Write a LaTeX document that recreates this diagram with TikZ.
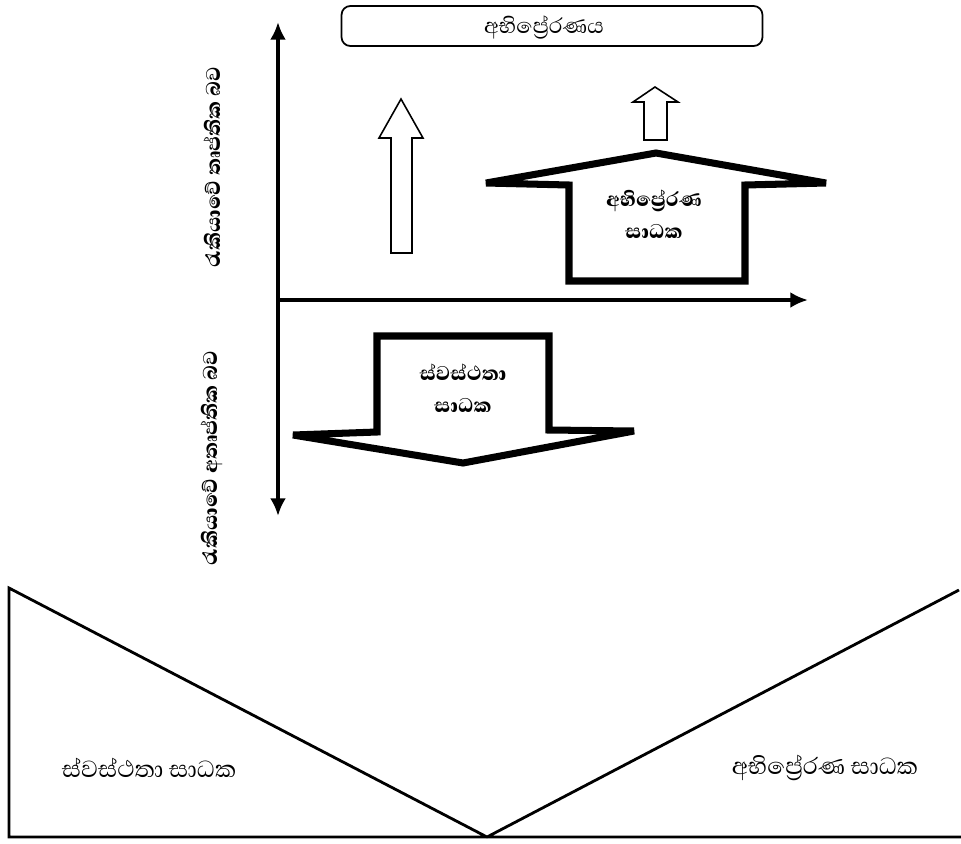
\documentclass[tikz,border=0pt]{standalone}
\usepackage{fontspec}
\newfontfamily\sinhala[Script=Sinhala, BoldFont={* ExtraBold}]{Abhaya Libre}
\usetikzlibrary{arrows,arrows.meta}
\tikzset{>=latex}

\begin{document}
\begin{tikzpicture}[x=0.02cm, y=-0.02cm]
                        % pixel grid of the page, y grows downwards
                        \useasboundingbox (0,0) rectangle (961,843);
                        \tikzstyle{every node}=[font=\sinhala\fontsize{15.5}{18}\selectfont]
                        \tikzstyle{axis}=[black, line width=2.3pt, {Latex[length=10pt,width=9pt]}-{Latex[length=10pt,width=9pt]}]
                        \tikzstyle{hollow}=[black, line width=0.9pt, fill=white]
                        \tikzstyle{block}=[black, line width=4pt]
                        \tikzstyle{vee}=[black, line width=1.6pt]
                        \tikzstyle{boldtext}=[font=\sinhala\bfseries\fontsize{14.5}{18}\selectfont, align=center]

                        \coordinate (O) at (278,300);
                        \coordinate (yT) at (278,22);
                        \coordinate (yB) at (278,516);
                        \coordinate (xR) at (808,300);
                        \draw[axis] (yB) -- (yT);
                        \draw[axis, {Latex[length=10pt,width=9pt]}-] (xR) -- (O);

                        \node[draw, rounded corners=5pt, line width=1pt, minimum width=8.42cm, minimum height=0.8cm] (goal) at (552,26) {};
                        \node (goaltext) at (544,27) {අභිප්^^^^200dරේරණය};

                        \node[boldtext, rotate=90] (sat) at (212,167) {රැකියාවේ තෘප්තික බව};
                        \node[boldtext, rotate=90] (dissat) at (212,458) {රැකියාවේ අතෘප්තික බව};

                        % hollow up arrows
                        \draw[hollow] (391,253) -- (391,138) -- (379,138) -- (401,99)
                                -- (423,138) -- (412,138) -- (412,253) -- cycle;
                        \draw[hollow] (644,140) -- (644,102) -- (633,102) -- (655,87)
                                -- (678,102) -- (667,102) -- (667,140) -- cycle;

                        % motivators
                        \draw[block] (569,281) -- (569,185) -- (486,183) -- (656,153)
                                -- (826,183) -- (745,185) -- (745,281) -- cycle;
                        \node[boldtext] (mot) at (654,214) {අභිප්^^^^200dරේරණ\\සාධක};

                        % hygiene factors
                        \draw[block] (377,336) -- (549,336) -- (549,430) -- (634,431)
                                -- (463,463) -- (293,435) -- (377,432) -- cycle;
                        \node[boldtext] (hyg) at (463,388) {ස්වස්ථතා\\සාධක};

                        % lower part
                        \coordinate (vL) at (9,588);
                        \coordinate (vR) at (959,590);
                        \coordinate (vM) at (487,837);
                        \coordinate (cL) at (9,837);
                        \coordinate (cR) at (961,837);
                        \draw[vee] (vR) -- (vM) -- (vL) -- (cL) -- (cR);
                        \node[font=\sinhala\fontsize{17}{20}\selectfont] (hygB) at (149,768) {ස්වස්ථතා සාධක};
                        \node[font=\sinhala\fontsize{17}{20}\selectfont] (motB) at (825,768) {අභිප්^^^^200dරේරණ සාධක};
\end{tikzpicture}
\end{document}
